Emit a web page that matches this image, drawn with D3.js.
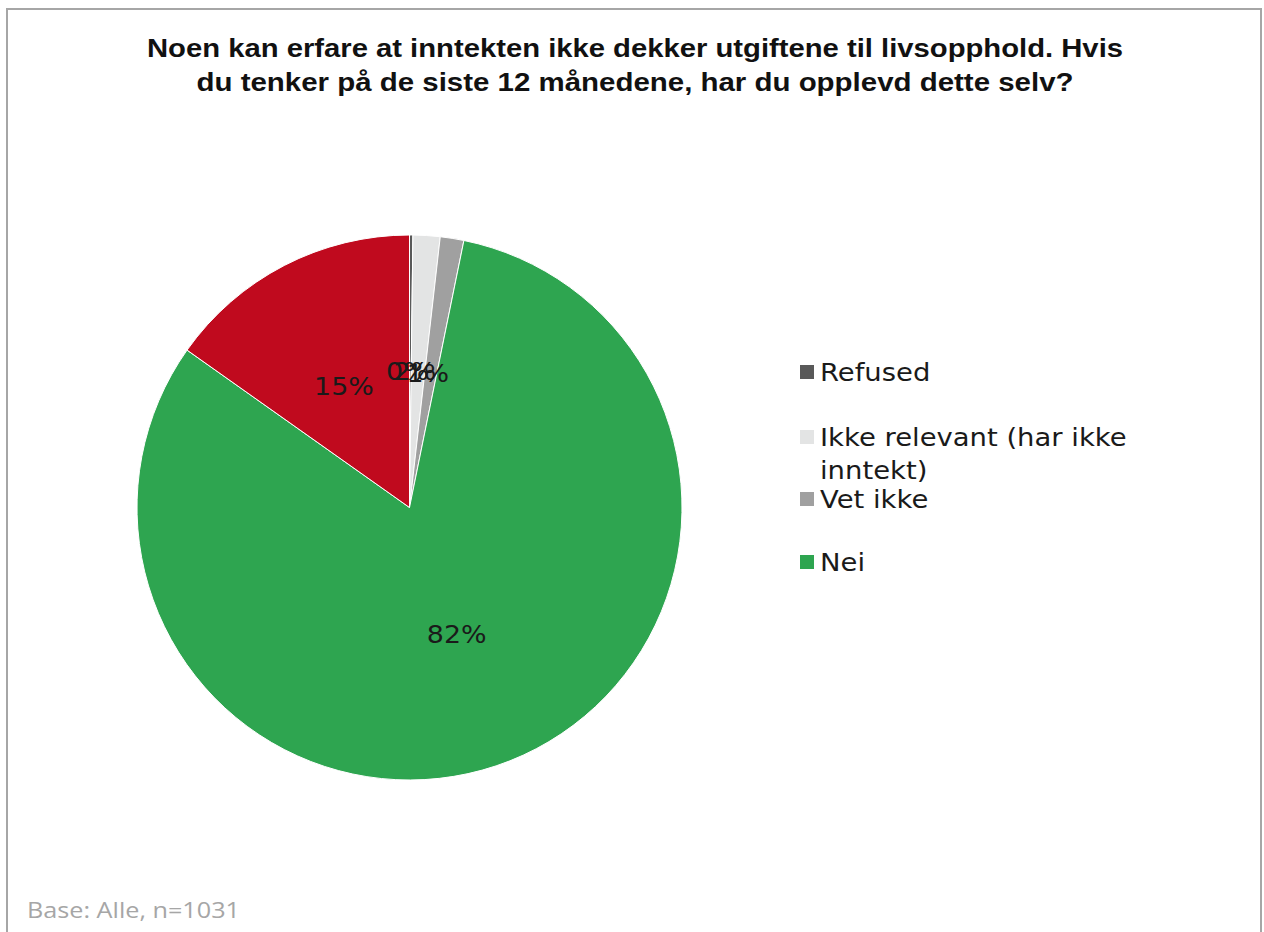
<!DOCTYPE html>
<html>
<head>
<meta charset="utf-8">
<script src="https://cdn.jsdelivr.net/npm/d3@7"></script>
<style>
  html, body { margin: 0; padding: 0; background: #fff; }
  svg { display: block; }
</style>
</head>
<body>
<svg id="chart" width="1264" height="932"></svg>
<script>
// Answer categories, in drawing order clockwise from 12 o'clock
const categories = ["Refused", "Ikke relevant (har ikke inntekt)", "Vet ikke", "Nei", "Ja"];
const shares = [0.2, 1.6, 1.4, 81.6, 15.2];
const sliceColors = ["#595959", "#e3e4e4", "#a0a0a0", "#2ea550", "#c00a1e"];
// Legend entries (the "Ja" series is not listed)
const legendItems = ["Refused", "Ikke relevant (har ikke inntekt)", "Vet ikke", "Nei"];
const legendLines = [["Refused"], ["Ikke relevant (har ikke", "inntekt)"], ["Vet ikke"], ["Nei"]];
const titleLines = [
  "Noen kan erfare at inntekten ikke dekker utgiftene til livsopphold. Hvis",
  "du tenker på de siste 12 månedene, har du opplevd dette selv?"
];
const titleWidths = [976, 877];
const footnote = "Base: Alle, n=1031";

const svg = d3.select("#chart");
const wide = 1.12; // horizontal stretch for the Verdana-like labels

// outer frame
svg.append("path")
  .attr("d", "M7,940 L7,9 L1261,9 L1261,940")
  .attr("fill", "none")
  .attr("stroke", "#a6a6a6")
  .attr("stroke-width", 2);

// title
svg.append("g").selectAll("text")
  .data(titleLines)
  .join("text")
  .attr("x", 635)
  .attr("y", (d, i) => 57 + i * 34)
  .attr("text-anchor", "middle")
  .attr("font-family", "'Liberation Sans', Arial, sans-serif")
  .attr("font-weight", "bold")
  .attr("font-size", 25)
  .attr("textLength", (d, i) => titleWidths[i])
  .attr("lengthAdjust", "spacingAndGlyphs")
  .attr("fill", "#111")
  .text(d => d);

// pie
const cx = 409.5, cy = 507.5, R = 272.5;
const data = categories.map((c, i) => ({ cat: c, value: shares[i], color: sliceColors[i] }));
const pie = d3.pie().value(d => d.value).sort(null);
const arcs = pie(data);
const arc = d3.arc().innerRadius(0).outerRadius(R);
const labelArc = d3.arc().innerRadius(R * 0.5).outerRadius(R * 0.5);

const g = svg.append("g").attr("transform", `translate(${cx},${cy})`);
g.selectAll("path")
  .data(arcs)
  .join("path")
  .attr("d", arc)
  .attr("fill", d => d.data.color)
  .attr("stroke", "#fff")
  .attr("stroke-width", 1);

g.selectAll("text")
  .data(arcs)
  .join("text")
  .attr("transform", d => {
    const [x, y] = labelArc.centroid(d);
    return `translate(${x - 3},${y}) scale(${wide},1)`;
  })
  .attr("text-anchor", "middle")
  .attr("dy", "0.36em")
  .attr("font-family", "'DejaVu Sans', Verdana, sans-serif")
  .attr("font-size", 24)
  .attr("fill", "#1a1a1a")
  .text(d => d3.format(".0f")(d.data.value) + "%");

// legend
const legendY = [372, 437, 499, 562];
const leg = svg.append("g");
legendItems.forEach((name, i) => {
  const idx = categories.indexOf(name);
  leg.append("rect")
    .attr("x", 800).attr("y", legendY[i] - 7)
    .attr("width", 14).attr("height", 14)
    .attr("fill", sliceColors[idx]);
  const t = leg.append("text")
    .attr("transform", `translate(820,${legendY[i] + 9}) scale(${wide},1)`)
    .attr("font-family", "'DejaVu Sans', Verdana, sans-serif")
    .attr("font-size", 24.5)
    .attr("fill", "#1a1a1a");
  legendLines[i].forEach((line, j) => {
    t.append("tspan").attr("x", 0).attr("dy", j === 0 ? 0 : 33).text(line);
  });
});

// footnote
svg.append("text")
  .attr("x", 27).attr("y", 918)
  .attr("font-family", "'Open Sans', 'Liberation Sans', sans-serif")
  .attr("font-size", 22.5)
  .attr("textLength", 213)
  .attr("lengthAdjust", "spacingAndGlyphs")
  .attr("fill", "#a6a6a6")
  .text(footnote);
</script>
</body>
</html>
